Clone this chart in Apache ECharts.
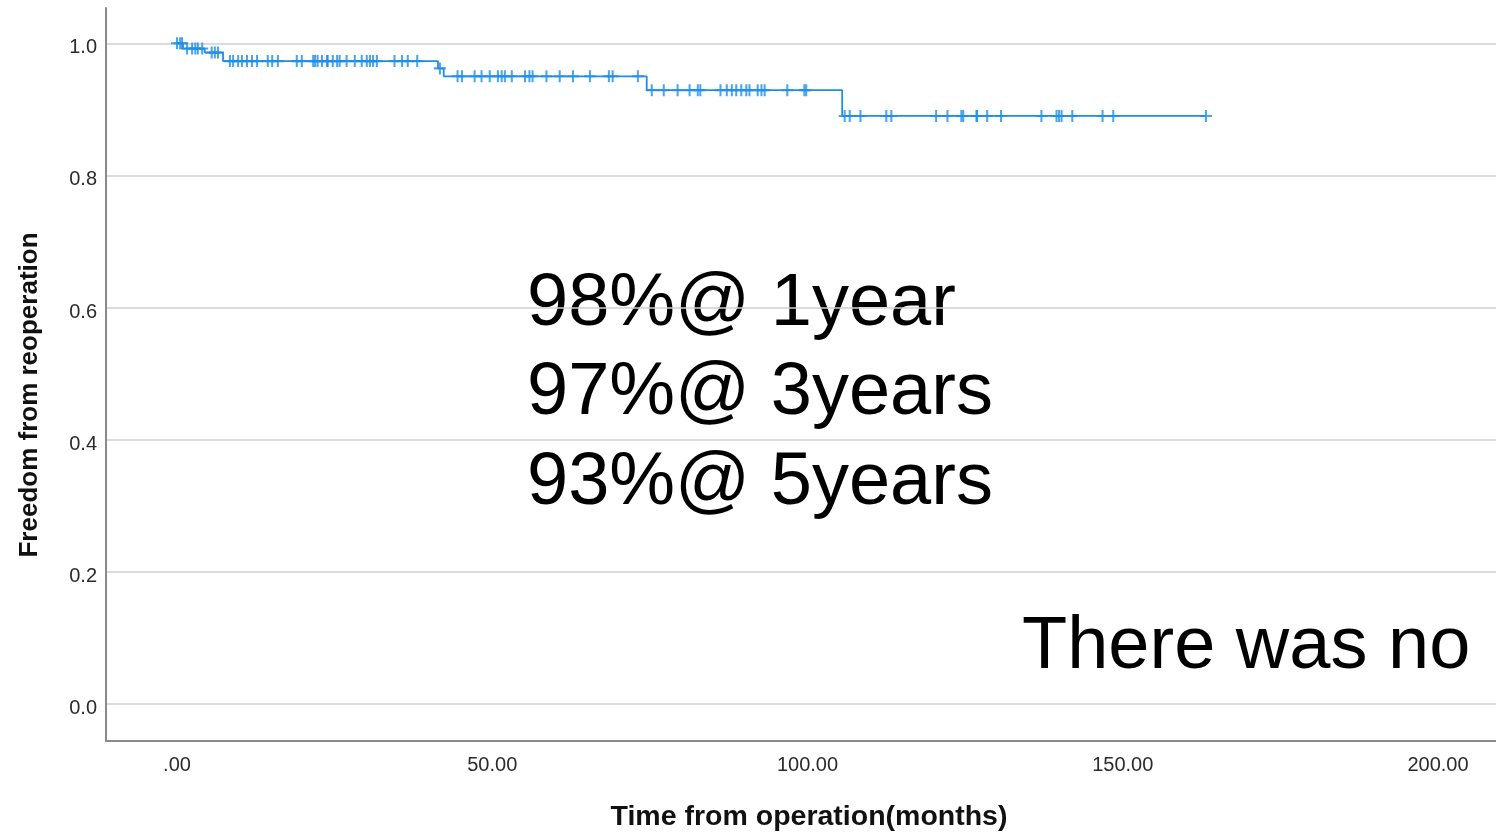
<!DOCTYPE html>
<html>
<head>
<meta charset="utf-8">
<script src="https://cdn.jsdelivr.net/npm/echarts@6/dist/echarts.min.js"></script>
<style>
html,body{margin:0;padding:0;background:#fff;}
#chart{width:1496px;height:833px;}
</style>
</head>
<body>
<div id="chart"></div>
<script>
// Kaplan-Meier: event times (months) and survival level before first event, then after each event
const eventTimes = [0.95, 4.4, 7.3, 41.4, 42.3, 74.5, 105.5];
const survivalLevels = [1.0, 0.992, 0.986, 0.973, 0.962, 0.950, 0.929, 0.890];
const lastFollowUp = 163.2;
// Censored observations (months)
const censorTimes = [
  0.0, 0.5, 0.8,
  1.6, 2.4, 2.9, 3.3, 4.0,
  5.5, 6.0, 6.5,
  8.4, 8.9, 9.7, 10.3, 11.1, 11.9, 12.7, 14.4, 15.1, 16.0, 19.0, 19.8,
  21.6, 21.9, 22.3, 23.0, 23.8, 23.9, 24.7, 25.4, 25.8, 26.9, 28.2, 29.3,
  30.1, 30.6, 31.1, 31.7, 34.5, 35.7, 36.6, 38.1,
  41.7,
  44.5, 45.2, 47.2, 48.3, 49.6, 50.9, 51.5, 52.0, 53.1, 55.2, 55.9, 56.4,
  58.6, 60.7, 62.8, 65.5, 68.5, 69.1, 73.1,
  75.3, 77.2, 79.4, 81.3, 82.6, 83.0, 86.2, 87.2, 88.0, 88.7, 89.5, 90.3,
  90.8, 92.1, 92.7, 93.2, 96.8, 99.5, 99.8,
  105.9, 106.7, 108.4, 112.5, 113.3, 120.4, 122.2, 124.4, 124.7, 126.8, 126.9,
  128.5, 130.7, 137.1, 139.5, 139.9, 140.3, 142.0, 146.8, 148.5, 163.2
];
const yTickValues = [0, 0.2, 0.4, 0.6, 0.8, 1.0];
const xTickValues = [0, 50, 100, 150, 200];
const annotationLines = ['98%@ 1year', '97%@ 3years', '93%@ 5years'];
const footText = 'There was no';
const xAxisTitle = 'Time from operation(months)';
const yAxisTitle = 'Freedom from reoperation';

function levelAt(t) {
  let k = 0;
  for (let i = 0; i < eventTimes.length; i++) if (eventTimes[i] <= t) k = i + 1;
  return survivalLevels[k];
}
const stepData = [[0, survivalLevels[0]]]
  .concat(eventTimes.map((t, i) => [t, survivalLevels[i + 1]]))
  .concat([[lastFollowUp, survivalLevels[survivalLevels.length - 1]]]);
const censorData = censorTimes.map(t => [t, levelAt(t)]);

const BLUE = '#1e8ee6';
const FONT = '"Liberation Sans", Arial, sans-serif';
const plus = 'path://M8.3,0H11.7V8.3H20V11.7H11.7V20H8.3V11.7H0V8.3H8.3Z';

const chart = echarts.init(document.getElementById('chart'), null, {renderer: 'canvas'});
chart.setOption({
  animation: false,
  backgroundColor: '#ffffff',
  grid: {left: 106, right: 0, top: 8, bottom: 92, containLabel: false},
  xAxis: {
    type: 'value', min: -11.26, max: 209.2,
    axisLine: {show: true, onZero: false, lineStyle: {color: '#8a8a8a', width: 2}},
    axisTick: {show: false},
    splitLine: {show: false},
    axisLabel: {
      margin: 14, fontSize: 20, color: '#2b2b2b', fontFamily: FONT,
      showMinLabel: false, showMaxLabel: false,
      formatter: v => {
        if (!xTickValues.some(x => Math.abs(x - v) < 1e-6)) return '';
        const s = v.toFixed(2);
        return s.startsWith('0.') ? s.slice(1) : s;
      }
    }
  },
  yAxis: {
    type: 'value', min: -0.056, max: 1.0534,
    axisLine: {show: true, onZero: false, lineStyle: {color: '#8a8a8a', width: 2}},
    axisTick: {show: false},
    splitLine: {show: true, showMinLine: false, showMaxLine: false, lineStyle: {color: '#cfcfcf', width: 1.5}},
    axisLabel: {
      margin: 9, fontSize: 20, color: '#2b2b2b', fontFamily: FONT,
      verticalAlign: 'top', lineHeight: 9,
      showMinLabel: false, showMaxLabel: false,
      formatter: v => yTickValues.some(y => Math.abs(y - v) < 1e-6) ? v.toFixed(1) : ''
    }
  },
  series: [
    {
      type: 'line', step: 'end', data: stepData, showSymbol: false, symbol: 'none',
      lineStyle: {color: BLUE, width: 1.8}, silent: true
    },
    {
      type: 'scatter', data: censorData, symbol: plus, symbolSize: 12,
      itemStyle: {color: BLUE}, silent: true
    }
  ],
  graphic: [
    {type: 'text', x: 30, y: 395, rotation: Math.PI / 2,
      style: {text: yAxisTitle, font: 'bold 26px ' + FONT, fill: '#111', align: 'center', verticalAlign: 'middle'}},
    {type: 'text', x: 809, y: 817,
      style: {text: xAxisTitle, font: 'bold 28.5px ' + FONT, fill: '#111', align: 'center', verticalAlign: 'middle'}},
    {type: 'text', x: 527, y: 305,
      style: {text: annotationLines[0], font: '74px ' + FONT, fill: '#000', align: 'left', verticalAlign: 'middle'}},
    {type: 'text', x: 527, y: 394,
      style: {text: annotationLines[1], font: '74px ' + FONT, fill: '#000', align: 'left', verticalAlign: 'middle'}},
    {type: 'text', x: 527, y: 484,
      style: {text: annotationLines[2], font: '74px ' + FONT, fill: '#000', align: 'left', verticalAlign: 'middle'}},
    {type: 'text', x: 1022, y: 648,
      style: {text: footText, font: '74px ' + FONT, fill: '#000', align: 'left', verticalAlign: 'middle'}}
  ]
});
</script>
</body>
</html>
